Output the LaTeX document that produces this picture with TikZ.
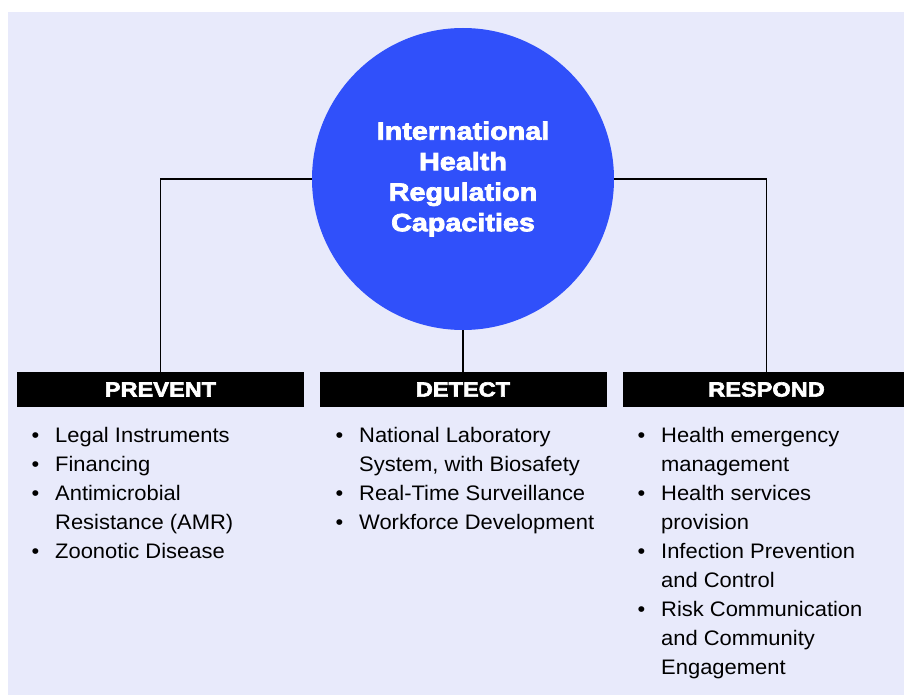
\documentclass[tikz,border=0pt]{standalone}
\usepackage{fontspec}
\setmainfont{Liberation Sans}
\newfontfamily\heavyfont[FakeStretch=1.15,FakeBold=3]{Liberation Sans}
\newfontfamily\bodyfont[FakeStretch=1.045]{Liberation Sans}
\usetikzlibrary{positioning}
\definecolor{panelbg}{RGB}{232,234,251}
\definecolor{hubblue}{RGB}{48,80,250}
\tikzstyle{hub}=[shape=circle,fill=hubblue,minimum size=302pt,inner sep=0pt,text=white,align=center,font=\heavyfont\bfseries\fontsize{25}{30.5}\selectfont]
\tikzstyle{headbox}=[shape=rectangle,fill=black,minimum width=287pt,minimum height=35pt,inner sep=0pt,text=white,font=\heavyfont\bfseries\fontsize{20.5}{24}\selectfont]
\tikzstyle{itemlist}=[anchor=base west,align=left,inner sep=0pt,font=\bodyfont\fontsize{21}{29}\selectfont]
\tikzstyle{linkedge}=[draw=black,line width=1.3pt]
\newcommand{\itm}{\makebox[23.5pt][l]{\textbullet}}
\newcommand{\cnt}{\hspace*{23.5pt}}

\begin{document}
\begin{tikzpicture}[x=1pt,y=-1pt]
\useasboundingbox (0,0) rectangle (904,695);
\fill[panelbg] (8,12) rectangle (904,695);
% hub
\node[hub] (irc) at (463,179) {International\\Health\\Regulation\\Capacities};
% 1st column (anchored at last baseline)
\node[headbox] (prevent) at (160.5,389.5) {PREVENT};
\node[itemlist] (preventlist) at (31.5,558) {\itm Legal Instruments\\\itm Financing\\\itm Antimicrobial\\\cnt Resistance (AMR)\\\itm Zoonotic Disease};
% 2nd column
\node[headbox] (detect) at (463,389.5) {DETECT};
\node[itemlist] (detectlist) at (335.5,529) {\itm National Laboratory\\\cnt System, with Biosafety\\\itm Real-Time Surveillance\\\itm Workforce Development};
% 3rd column
\node[headbox] (respond) at (766.5,389.5) {RESPOND};
\node[itemlist] (respondlist) at (637.5,674) {\itm Health emergency\\\cnt management\\\itm Health services\\\cnt provision\\\itm Infection Prevention\\\cnt and Control\\\itm Risk Communication\\\cnt and Community\\\cnt Engagement};
% links
\draw[linkedge] (irc.west) -| (prevent.north);
\draw[linkedge] (irc.east) -| (respond.north);
\draw[linkedge] (irc.south) -- (detect.north);
\end{tikzpicture}
\end{document}
